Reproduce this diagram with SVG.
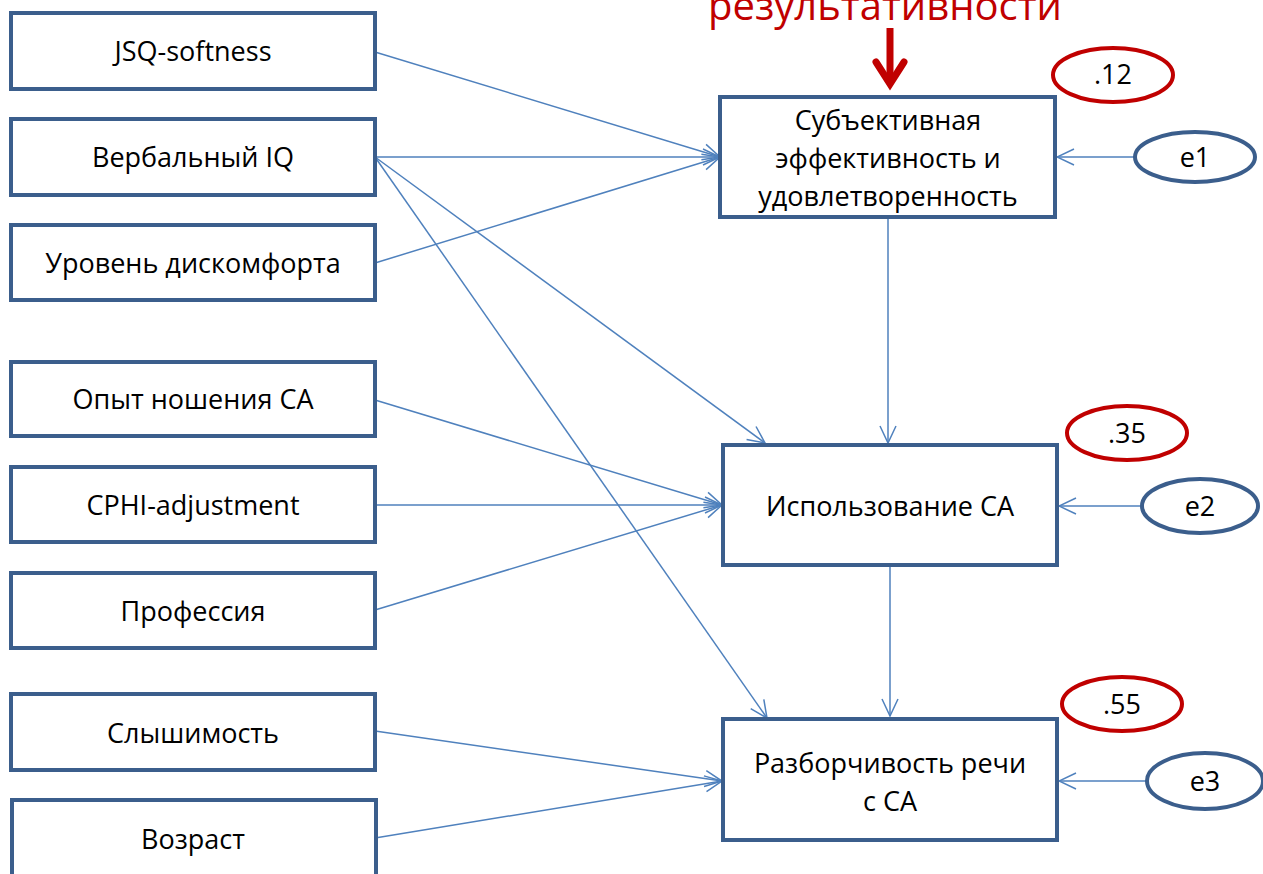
<svg xmlns="http://www.w3.org/2000/svg" width="1263" height="874" viewBox="0 0 1263 874">
<defs>
<style>
.box{fill:#fff;stroke:#3B5E8C;stroke-width:4;}
.lbl{font-family:"Open Sans","Liberation Sans",sans-serif;font-size:27px;fill:#000;text-anchor:middle;}
.c{stroke:#4F81BD;stroke-width:1.5;fill:none;marker-end:url(#ah);}
.red{fill:#fff;stroke:#C00000;stroke-width:4;}
.blue{fill:#fff;stroke:#3B5E8C;stroke-width:4;}
</style>
<marker id="ah" viewBox="0 0 20 20" refX="19" refY="10" markerWidth="20" markerHeight="20" markerUnits="userSpaceOnUse" orient="auto">
<path d="M2,2 L19,10 L2,18" fill="none" stroke="#4F81BD" stroke-width="1.5"/>
</marker>
</defs>
<rect width="1263" height="874" fill="#fff"/>
<text x="885" y="20" font-family="'Open Sans','Liberation Sans',sans-serif" font-size="40" fill="#C00000" text-anchor="middle">результативности</text>
<g id="redarrow">
<line x1="890" y1="28" x2="890" y2="80" stroke="#C00000" stroke-width="7"/>
<path d="M876,62 L890,84 L904,62" fill="none" stroke="#C00000" stroke-width="7" stroke-linecap="round"/>
</g>
<g id="connectors">
<line class="c" x1="375" y1="52" x2="720" y2="157"/>
<line class="c" x1="375" y1="157" x2="720" y2="157"/>
<line class="c" x1="375" y1="263" x2="720" y2="157"/>
<line class="c" x1="375" y1="157" x2="765" y2="443"/>
<line class="c" x1="375" y1="157" x2="767" y2="718"/>
<line class="c" x1="888" y1="217" x2="888" y2="443"/>
<line class="c" x1="375" y1="400" x2="722" y2="505"/>
<line class="c" x1="375" y1="505" x2="722" y2="505"/>
<line class="c" x1="375" y1="610" x2="722" y2="505"/>
<line class="c" x1="890" y1="565" x2="890" y2="716"/>
<line class="c" x1="375" y1="731" x2="722" y2="781"/>
<line class="c" x1="375" y1="838" x2="722" y2="781"/>
<line class="c" x1="1135" y1="157" x2="1057" y2="157"/>
<line class="c" x1="1140" y1="506" x2="1059" y2="506"/>
<line class="c" x1="1147" y1="781" x2="1059" y2="781"/>
</g>
<g id="n_jsq"><rect class="box" x="11" y="13" width="364" height="76"/><text class="lbl" x="193" y="61">JSQ-softness</text></g>
<g id="n_viq"><rect class="box" x="11" y="119" width="364" height="76"/><text class="lbl" x="193" y="167">Вербальный IQ</text></g>
<g id="n_disc"><rect class="box" x="11" y="225" width="364" height="75"/><text class="lbl" x="193" y="273">Уровень дискомфорта</text></g>
<g id="n_exp"><rect class="box" x="11" y="362" width="364" height="74"/><text class="lbl" x="193" y="409">Опыт ношения СА</text></g>
<g id="n_cphi"><rect class="box" x="11" y="467" width="364" height="75"/><text class="lbl" x="193" y="515">CPHI-adjustment</text></g>
<g id="n_prof"><rect class="box" x="11" y="573" width="364" height="75"/><text class="lbl" x="193" y="621">Профессия</text></g>
<g id="n_hear"><rect class="box" x="11" y="694" width="364" height="76"/><text class="lbl" x="193" y="743">Слышимость</text></g>
<g id="n_age"><rect class="box" x="12" y="800" width="364" height="80"/><text class="lbl" x="193" y="849">Возраст</text></g>
<g id="n_subj"><rect class="box" x="720" y="97" width="335" height="120"/><text class="lbl" x="888" y="130">Субъективная</text><text class="lbl" x="888" y="168">эффективность и</text><text class="lbl" x="888" y="206">удовлетворенность</text></g>
<g id="n_use"><rect class="box" x="723" y="445" width="334" height="120"/><text class="lbl" x="890" y="516">Использование СА</text></g>
<g id="n_intel"><rect class="box" x="723" y="719" width="334" height="121"/><text class="lbl" x="890" y="773">Разборчивость речи</text><text class="lbl" x="890" y="811">с СА</text></g>
<g id="r1"><ellipse class="red" cx="1113" cy="75" rx="60" ry="27"/><text class="lbl" x="1113" y="84">.12</text></g>
<g id="e1"><ellipse class="blue" cx="1195" cy="157" rx="60" ry="25"/><text class="lbl" x="1195" y="167">e1</text></g>
<g id="r2"><ellipse class="red" cx="1127" cy="433" rx="60" ry="27"/><text class="lbl" x="1127" y="443">.35</text></g>
<g id="e2"><ellipse class="blue" cx="1200" cy="506" rx="58" ry="27"/><text class="lbl" x="1200" y="516">e2</text></g>
<g id="r3"><ellipse class="red" cx="1122" cy="704" rx="60" ry="27"/><text class="lbl" x="1122" y="714">.55</text></g>
<g id="e3"><ellipse class="blue" cx="1205" cy="781" rx="58" ry="28"/><text class="lbl" x="1205" y="791">e3</text></g>
</svg>
